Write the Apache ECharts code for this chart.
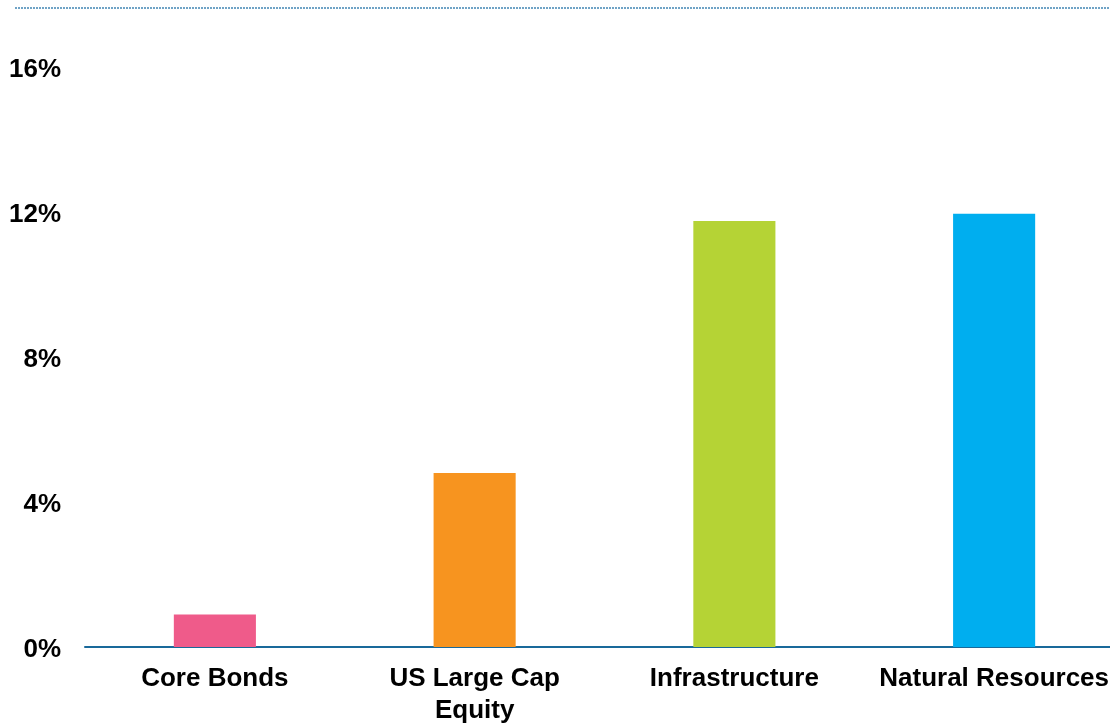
<!DOCTYPE html>
<html>
<head>
<meta charset="utf-8">
<script src="https://cdn.jsdelivr.net/npm/echarts@6/dist/echarts.min.js"></script>
<style>
  html, body { margin: 0; padding: 0; background: #ffffff; }
  #chart { width: 1110px; height: 723px; }
</style>
</head>
<body>
<div id="chart"></div>
<script>
// Asset classes along the x axis
const categories = ['Core Bonds', 'US Large Cap\nEquity', 'Infrastructure', 'Natural Resources'];
// Return for each asset class, in percent
const returns = [0.9, 4.8, 11.75, 11.95];
// One fill colour per bar
const barColors = ['#EF5B8A', '#F7941F', '#B5D335', '#00AEEF'];
// Value axis ticks
const yTicks = [0, 4, 8, 12, 16];

const chart = echarts.init(document.getElementById('chart'), null, { renderer: 'canvas' });

const font = '"Liberation Sans", Arial, Helvetica, sans-serif';

chart.setOption({
  animation: false,
  backgroundColor: '#ffffff',
  grid: {
    left: 85, width: 1039, top: 67, bottom: 76,
    containLabel: false,
    outerBoundsMode: 'none'
  },
  graphic: [{
    // dotted rule across the top of the panel
    type: 'line',
    shape: { x1: 15, y1: 8, x2: 1110, y2: 8 },
    style: { stroke: '#6FA3C6', lineWidth: 2, lineDash: [2, 1] },
    silent: true
  }],
  xAxis: {
    type: 'category',
    data: categories,
    axisLine: { show: true, lineStyle: { color: '#19699A', width: 2 } },
    axisTick: { show: false },
    axisLabel: {
      color: '#000000',
      fontFamily: font,
      fontWeight: 'bold',
      fontSize: 26,
      lineHeight: 32,
      margin: 16,
      interval: 0
    },
    splitLine: { show: false }
  },
  yAxis: {
    type: 'value',
    min: yTicks[0],
    max: yTicks[yTicks.length - 1],
    interval: 4,
    axisLine: { show: false },
    axisTick: { show: false },
    splitLine: { show: false },
    axisLabel: {
      margin: 24,
      formatter: v => '{v|' + v + '%}',
      rich: {
        v: {
          color: '#000000',
          fontFamily: font,
          fontWeight: 'bold',
          fontSize: 26,
          lineHeight: 26,
          padding: [6, 0, 0, 0]
        }
      }
    }
  },
  series: [{
    type: 'bar',
    barWidth: '31.6%',
    data: returns.map((v, i) => ({ value: v, itemStyle: { color: barColors[i] } })),
    z: 1
  }]
});
</script>
</body>
</html>
